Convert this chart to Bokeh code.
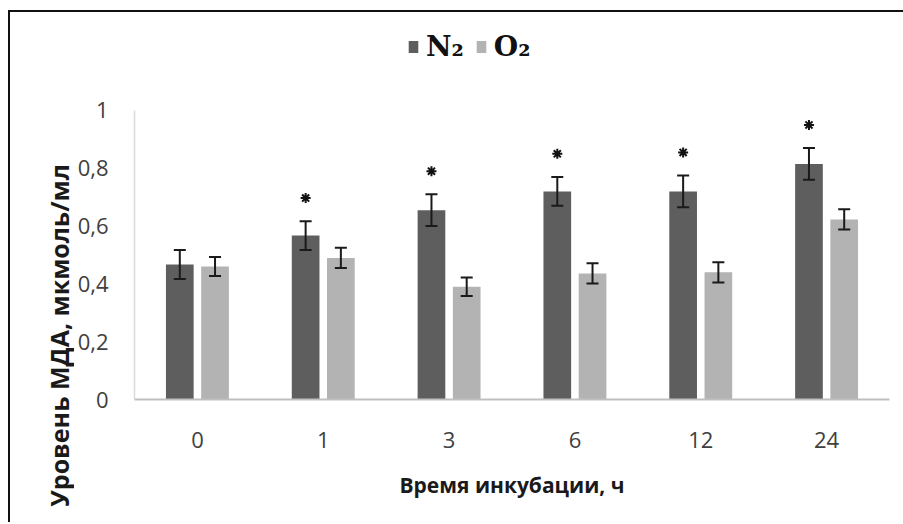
import math
from bokeh.plotting import figure
from bokeh.layouts import row
from bokeh.models import ColumnDataSource, FactorRange, Whisker, FixedTicker, Legend, LegendItem, TeeHead
from bokeh.transform import dodge
from bokeh.core.properties import value
from bokeh.embed import file_html
from bokeh.resources import INLINE

# ---- data ----
hours = ["0", "1", "3", "6", "12", "24"]
n2_values = [0.467, 0.567, 0.655, 0.72, 0.72, 0.815]
n2_errors = [0.05, 0.05, 0.055, 0.05, 0.055, 0.055]
o2_values = [0.46, 0.49, 0.39, 0.436, 0.44, 0.623]
o2_errors = [0.033, 0.035, 0.032, 0.035, 0.035, 0.035]
significant = [False, True, True, True, True, True]
y_ticks = [0, 0.2, 0.4, 0.6, 0.8, 1.0]
y_tick_labels = ["0", "0,2", "0,4", "0,6", "0,8", "1"]
series_names = ["N\u2082", "O\u2082"]
x_title = "Время инкубации, ч"
y_title = "Уровень МДА, мкмоль/мл"

N2_COLOR = "#5e5e5e"
O2_COLOR = "#b3b3b3"
TXT = "#404040"

src = ColumnDataSource(dict(
    t=hours,
    n2=n2_values,
    n2_up=[v + e for v, e in zip(n2_values, n2_errors)],
    n2_lo=[v - e for v, e in zip(n2_values, n2_errors)],
    o2=o2_values,
    o2_up=[v + e for v, e in zip(o2_values, o2_errors)],
    o2_lo=[v - e for v, e in zip(o2_values, o2_errors)],
))

star_t = [h for h, s in zip(hours, significant) if s]
star_y = [v + e + 0.08 for v, e, s in zip(n2_values, n2_errors, significant) if s]
star_src = ColumnDataSource(dict(t=star_t, y=star_y))

TOTAL_W, H = 893, 510
TW = 64  # width of the y-title strip

p = figure(width=TOTAL_W - TW, height=H, x_range=FactorRange(*hours, range_padding=0),
           y_range=(0, 1.339), output_backend="svg", toolbar_location=None,
           min_border_left=120 - TW, min_border_right=14, min_border_top=0,
           min_border_bottom=123)
p.frame_align = False
p.x_range.range_padding = 0
p.outline_line_color = None
p.xgrid.grid_line_color = None
p.ygrid.grid_line_color = None
p.background_fill_color = "white"
p.border_fill_color = "white"

r1 = p.vbar(x=dodge("t", -0.14, range=p.x_range), top="n2", width=0.22, source=src,
            fill_color=N2_COLOR, line_color=None)
r2 = p.vbar(x=dodge("t", 0.14, range=p.x_range), top="o2", width=0.22, source=src,
            fill_color=O2_COLOR, line_color=None)

for base_off, up, lo in [(-0.14, "n2_up", "n2_lo"), (0.14, "o2_up", "o2_lo")]:
    w = Whisker(source=src, base=dodge("t", base_off, range=p.x_range), upper=up, lower=lo,
                line_color="#1a1a1a", line_width=2, level="overlay",
                upper_head=TeeHead(size=12, line_color="#1a1a1a", line_width=2),
                lower_head=TeeHead(size=12, line_color="#1a1a1a", line_width=2))
    p.add_layout(w)

p.scatter(x=dodge("t", -0.14, range=p.x_range), y="y", source=star_src, marker="asterisk",
          size=10, line_color="#111111", line_width=2)

# axes
p.yaxis.ticker = FixedTicker(ticks=y_ticks)
p.yaxis.major_label_overrides = {t: l for t, l in zip(y_ticks, y_tick_labels)}
p.yaxis.bounds = (0, 1)
for ax in (p.xaxis, p.yaxis):
    ax.major_tick_line_color = None
    ax.minor_tick_line_color = None
    ax.major_label_text_font = "Open Sans"
    ax.major_label_text_font_size = "22px"
    ax.major_label_text_color = TXT
    ax.axis_label_text_font = "Open Sans"
    ax.axis_label_text_font_style = "bold"
    ax.axis_label_text_font_size = "21px"
    ax.axis_label_text_color = "#1a1a1a"
p.yaxis.axis_line_color = "#d9d9d9"
p.yaxis.axis_line_width = 1.5
p.xaxis.axis_line_color = "#bfbfbf"
p.xaxis.axis_line_width = 2
p.yaxis.major_label_standoff = 20
p.xaxis.major_label_standoff = 26
p.xaxis.axis_label = x_title
p.xaxis.axis_label_standoff = 20

legend = Legend(items=[LegendItem(label=series_names[0], renderers=[r1]),
                       LegendItem(label=series_names[1], renderers=[r2])],
                orientation="horizontal", location=(273, 336),
                padding=0, margin=0, spacing=11, label_standoff=7,
                glyph_width=12, glyph_height=15, label_height=30,
                label_text_font="DejaVu Serif", label_text_font_style="bold",
                label_text_font_size="28px", label_text_color="#111111",
                border_line_color=None, background_fill_alpha=0)
p.add_layout(legend, "center")

# y-axis title strip (no axes, frame fills the strip)
t = figure(width=TW, height=H, x_range=(0, TW), y_range=(0, H), output_backend="svg",
           toolbar_location=None, min_border=0, x_axis_type=None, y_axis_type=None)
t.frame_align = False
t.grid.grid_line_color = None
t.outline_line_color = None
t.text(x=[48], y=[187], text=[y_title], angle=math.pi / 2, text_align="center",
       text_baseline="middle", text_font=value("Open Sans"), text_font_style="bold",
       text_font_size="25px", text_color="#1a1a1a")

layout = row(t, p)
layout.styles = {"border-left": "2px solid #111", "border-top": "2px solid #111",
                 "margin-top": "10px", "margin-left": "8px"}

open("out.html", "w").write(file_html(layout, INLINE))
